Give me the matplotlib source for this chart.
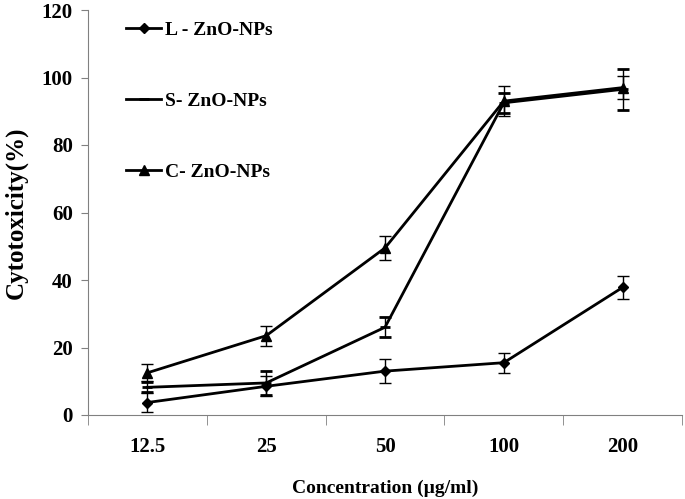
import matplotlib.pyplot as plt
import numpy as np

plt.rcParams['font.family'] = ['Liberation Serif', 'DejaVu Serif']
plt.rcParams['font.weight'] = 'bold'

concentrations = ["12.5", "25", "50", "100", "200"]

l_zno = [3.7, 8.5, 13.0, 15.5, 37.8]
l_err = [2.8, 3.0, 3.5, 3.0, 3.3]
s_zno = [8.2, 9.5, 26.0, 92.5, 96.5]
s_err = [1.5, 3.5, 3.0, 3.0, 6.0]
c_zno = [12.5, 23.5, 49.5, 93.0, 97.0]
c_err = [2.5, 3.0, 3.5, 4.5, 3.5]

fig = plt.figure(figsize=(6.85, 4.99), dpi=100)
ax = fig.add_axes([88 / 685, 84 / 499, 594 / 685, 405 / 499])

x = np.arange(len(concentrations))
common = dict(color="black", lw=2, capsize=4, elinewidth=1, capthick=1)
h1 = ax.errorbar(x, l_zno, yerr=l_err, marker="D", ms=5, **common)
h2 = ax.errorbar(x, s_zno, yerr=s_err, marker="_", ms=7, mew=2, **common)
h3 = ax.errorbar(x, c_zno, yerr=c_err, marker="^", ms=7, **common)

ax.set_xlim(-0.5, len(concentrations) - 0.5)
ax.set_ylim(0, 120)
ax.set_yticks(np.arange(0, 121, 20))
ax.set_xticks(x)
ax.set_xticklabels(concentrations)
ax.set_xticks(np.arange(-0.5, len(concentrations), 1), minor=True)
ax.tick_params(axis="x", which="major", length=0, pad=16, labelsize=15)
ax.tick_params(axis="x", which="minor", length=7, color="gray", direction="out")
ax.tick_params(axis="y", length=5, color="gray", labelsize=15, pad=6)

for side in ["top", "right"]:
    ax.spines[side].set_visible(False)
for side in ["left", "bottom"]:
    ax.spines[side].set_color("gray")

ax.set_ylabel("Cytotoxicity(%)", fontsize=18, fontweight="bold", labelpad=10)
ax.set_xlabel("Concentration (\u00b5g/ml)", fontsize=14, fontweight="bold", labelpad=16)

ax.legend([h1[0], h2[0], h3[0]], ["L - ZnO-NPs", "S- ZnO-NPs", "C- ZnO-NPs"],
          loc="upper left", bbox_to_anchor=(0.035, 1.015), frameon=False,
          fontsize=14, labelspacing=2.75, handlelength=1.8, handletextpad=0.2)

plt.savefig("out.png", dpi=100)
